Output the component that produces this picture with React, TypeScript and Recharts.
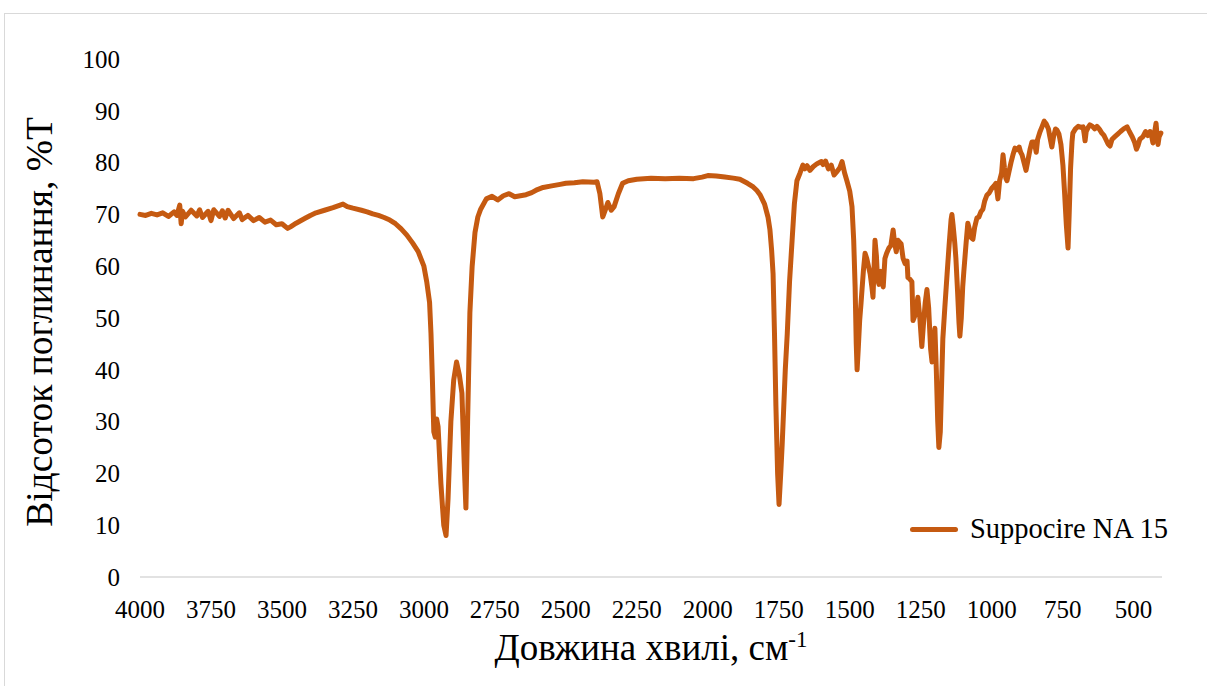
import React from 'react';
import { LineChart, Line, XAxis, YAxis } from 'recharts';

const wavenumbers: number[] = [
  4000, 3980, 3960, 3940, 3920, 3900, 3880, 3870, 3860, 3855, 3850, 3840, 3820, 3800, 3790, 3780, 3760, 3750, 3740, 3720,
  3710, 3700, 3690, 3670, 3650, 3640, 3620, 3600, 3580, 3560, 3540, 3520, 3500, 3480, 3470, 3450, 3420, 3400, 3380, 3350,
  3320, 3300, 3285, 3270, 3250, 3220, 3200, 3180, 3160, 3140, 3120, 3100, 3080, 3060, 3040, 3020, 3000, 2990, 2980, 2975,
  2970, 2965, 2960, 2955, 2950, 2940, 2930, 2922, 2915, 2905, 2895, 2885, 2875, 2866, 2858, 2852, 2846, 2838, 2830, 2820,
  2810, 2800, 2780, 2760, 2740, 2720, 2700, 2680, 2660, 2640, 2620, 2600, 2580, 2550, 2520, 2500, 2470, 2440, 2400, 2390,
  2380, 2370, 2360, 2352, 2340, 2330, 2315, 2300, 2280, 2250, 2200, 2150, 2100, 2050, 2020, 2000, 1970, 1940, 1910, 1887,
  1860, 1840, 1827, 1816, 1800, 1788, 1781, 1775, 1770, 1765, 1760, 1754, 1749, 1743, 1738, 1733, 1727, 1720, 1712, 1703,
  1695, 1686, 1675, 1665, 1658, 1650, 1640, 1629, 1615, 1600, 1594, 1585, 1575, 1565, 1555, 1546, 1535, 1527, 1518, 1510,
  1500, 1492, 1486, 1481, 1477, 1474, 1470, 1465, 1460, 1452, 1446, 1440, 1432, 1428, 1422, 1418, 1414, 1411, 1406, 1402,
  1397, 1390, 1382, 1376, 1370, 1362, 1355, 1347, 1342, 1336, 1330, 1319, 1312, 1305, 1298, 1295, 1288, 1281, 1277, 1270,
  1265, 1260, 1253, 1246, 1240, 1234, 1228, 1222, 1215, 1210, 1205, 1200, 1195, 1190, 1186, 1181, 1176, 1172, 1165, 1157,
  1150, 1143, 1140, 1136, 1130, 1126, 1120, 1115, 1112, 1107, 1102, 1098, 1090, 1084, 1078, 1072, 1066, 1060, 1052, 1045,
  1038, 1031, 1025, 1017, 1008, 1000, 992, 985, 978, 972, 965, 960, 955, 950, 946, 940, 932, 925, 918, 910,
  903, 898, 893, 886, 879, 872, 865, 858, 850, 843, 838, 830, 822, 815, 808, 800, 795, 788, 782, 775,
  770, 763, 756, 749, 743, 737, 731, 727, 722, 717, 714, 705, 695, 685, 678, 674, 671, 667, 660, 654,
  645, 637, 629, 620, 612, 605, 598, 590, 583, 576, 566, 556, 546, 535, 523, 515, 505, 497, 490, 485,
  478, 467, 458, 450, 442, 436, 432, 427, 421, 417, 414, 410, 404,
];

const transmittance: number[] = [
  70.0, 69.8, 70.2, 69.9, 70.3, 69.6, 70.5, 69.8, 71.8, 68.2, 70.6, 69.5, 70.8, 69.7, 70.9, 69.4, 70.6, 68.8, 70.9, 69.6,
  70.7, 69.3, 70.8, 69.2, 70.3, 69.0, 69.8, 68.8, 69.4, 68.5, 68.9, 68.0, 68.2, 67.3, 67.6, 68.3, 69.2, 69.8, 70.3, 70.8,
  71.3, 71.7, 72.0, 71.5, 71.2, 70.8, 70.5, 70.1, 69.8, 69.4, 68.9, 68.2, 67.2, 66.0, 64.5, 62.8, 60.0, 57.0, 53.0, 47.0,
  38.0, 28.0, 27.0, 30.5, 29.0, 18.0, 10.0, 8.0, 15.0, 30.0, 38.0, 41.5, 39.0, 35.5, 22.0, 13.3, 30.0, 51.0, 60.0, 66.5,
  69.5, 71.0, 73.0, 73.5, 72.8, 73.6, 74.0, 73.4, 73.6, 73.8, 74.2, 74.8, 75.2, 75.5, 75.8, 76.0, 76.1, 76.3, 76.2, 76.3,
  74.0, 69.5, 71.0, 72.3, 70.8, 71.5, 74.0, 76.0, 76.5, 76.8, 77.0, 76.9, 77.0, 76.9, 77.2, 77.5, 77.4, 77.2, 77.0, 76.8,
  76.0, 75.3, 74.6, 73.8, 72.0, 69.5, 67.0, 63.0, 58.5, 47.0, 33.0, 20.0, 14.0, 20.0, 25.5, 32.0, 40.0, 47.0, 57.0, 65.0,
  72.0, 76.5, 78.0, 79.5, 78.8, 79.4, 78.5, 79.2, 79.8, 80.2, 79.6, 80.3, 78.8, 79.5, 77.6, 78.2, 79.0, 80.2, 78.0, 76.5,
  74.5, 71.5, 65.0, 56.0, 45.0, 40.0, 44.0, 49.5, 53.0, 59.0, 62.5, 61.5, 59.5, 58.5, 56.0, 54.0, 60.0, 65.0, 62.0, 57.5,
  56.5, 59.0, 56.0, 61.5, 62.5, 63.5, 64.0, 67.0, 64.5, 62.8, 65.0, 64.3, 61.5, 60.5, 61.0, 57.8, 57.5, 57.0, 49.5, 50.5,
  52.0, 54.0, 50.0, 44.5, 49.0, 53.0, 55.5, 52.0, 44.0, 41.5, 44.0, 48.0, 40.0, 30.0, 25.0, 28.0, 38.0, 46.0, 52.0, 58.5,
  64.0, 69.0, 70.0, 68.0, 64.5, 61.5, 55.0, 49.0, 46.5, 50.0, 56.0, 59.0, 64.5, 68.3, 67.0, 65.5, 65.2, 67.5, 69.3, 69.5,
  70.5, 71.0, 72.5, 73.7, 74.2, 75.0, 75.5, 76.0, 73.0, 76.5, 78.0, 81.5, 79.0, 77.0, 76.5, 78.0, 80.0, 81.5, 82.8, 82.5,
  83.0, 82.0, 81.5, 80.0, 78.5, 80.5, 82.5, 84.0, 84.0, 82.0, 84.5, 85.9, 87.0, 88.0, 87.5, 86.5, 85.0, 83.0, 85.0, 86.5,
  86.3, 85.5, 83.5, 79.5, 74.0, 68.0, 63.5, 70.0, 79.0, 84.0, 85.7, 86.5, 87.0, 86.8, 86.9, 85.5, 84.2, 86.0, 86.8, 87.3,
  87.0, 86.5, 87.0, 86.4, 85.7, 85.3, 84.5, 83.6, 83.2, 84.5, 85.0, 85.5, 86.0, 86.5, 86.9, 86.0, 85.0, 84.0, 82.6, 83.2,
  84.5, 85.0, 86.0, 85.2, 86.0, 85.0, 83.8, 85.5, 87.6, 85.0, 83.5, 85.0, 85.7,
];

const xTicks: number[] = [4000, 3750, 3500, 3250, 3000, 2750, 2500, 2250, 2000, 1750, 1500, 1250, 1000, 750, 500];
const yTicks: number[] = [0, 10, 20, 30, 40, 50, 60, 70, 80, 90, 100];

const seriesName = 'Suppocire NA 15';
const yTitle = 'Відсоток поглинання, %T';
const xTitle = 'Довжина хвилі, см';
const xTitleSup = '-1';

const data = wavenumbers.map((wn, i) => ({ wn, t: transmittance[i] }));

const COLOR = '#C55A11';
const FONT = "'Liberation Serif', 'Times New Roman', Times, serif";

export default function App() {
  return (
    <div
      style={{
        position: 'fixed',
        left: 0,
        top: 0,
        width: 1207,
        height: 686,
        overflow: 'hidden',
        background: '#fff',
        fontFamily: FONT,
      }}
    >
      <div
        style={{
          position: 'absolute',
          left: 4,
          top: 13,
          width: 1240,
          height: 720,
          border: '1px solid #d9d9d9',
        }}
      />
      <div style={{ position: 'absolute', left: 0, top: 0 }}>
        <LineChart
          width={1207}
          height={686}
          data={data}
          margin={{ top: 59, right: 45, bottom: 69, left: 80 }}
          style={{ fontFamily: FONT }}
        >
          <XAxis
            dataKey="wn"
            type="number"
            domain={[400, 4000]}
            reversed
            ticks={xTicks}
            interval={0}
            height={40}
            tickSize={0}
            tickMargin={23}
            axisLine={{ stroke: '#d9d9d9', strokeWidth: 1.5 }}
            tickLine={false}
            tick={{ fill: '#000', fontSize: 25, fontFamily: FONT }}
          />
          <YAxis
            type="number"
            domain={[0, 100]}
            ticks={yTicks}
            interval={0}
            width={60}
            tickSize={0}
            tickMargin={20}
            axisLine={false}
            tickLine={false}
            tick={{ fill: '#000', fontSize: 25, fontFamily: FONT }}
          />
          <Line
            type="linear"
            dataKey="t"
            name={seriesName}
            stroke={COLOR}
            strokeWidth={5}
            strokeLinejoin="round"
            strokeLinecap="round"
            dot={false}
            activeDot={false}
            isAnimationActive={false}
          />
        </LineChart>
      </div>
      <div
        style={{
          position: 'absolute',
          left: 40,
          top: 322,
          transform: 'translate(-50%, -50%) rotate(-90deg)',
          whiteSpace: 'nowrap',
          fontSize: 37.5,
          lineHeight: 1,
          color: '#000',
        }}
      >
        {yTitle}
      </div>
      <div
        style={{
          position: 'absolute',
          left: 651,
          top: 629,
          transform: 'translateX(-50%)',
          whiteSpace: 'nowrap',
          fontSize: 37,
          lineHeight: 1,
          color: '#000',
        }}
      >
        {xTitle}
        <span style={{ fontSize: 23, position: 'relative', top: -13 }}>{xTitleSup}</span>
      </div>
      <div
        style={{
          position: 'absolute',
          left: 910,
          top: 515,
          display: 'flex',
          alignItems: 'center',
          whiteSpace: 'nowrap',
          fontSize: 28.5,
          lineHeight: 1,
          color: '#000',
        }}
      >
        <div style={{ width: 48, height: 5, background: COLOR, borderRadius: 2.5, marginRight: 12 }} />
        <span>{seriesName}</span>
      </div>
    </div>
  );
}
